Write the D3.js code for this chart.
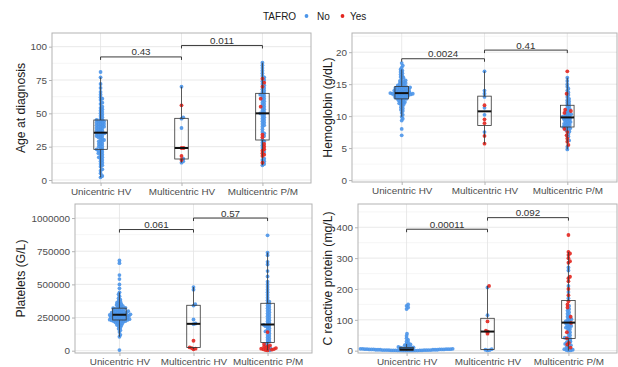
<!DOCTYPE html>
<html>
<head>
<meta charset="utf-8">
<script src="https://cdn.jsdelivr.net/npm/d3@7"></script>
<style>
  body { margin: 0; background: #fff; }
  svg { display: block; font-family: "Liberation Sans", Arial, Helvetica, sans-serif; }
</style>
</head>
<body>
<svg id="chart" width="618" height="367"></svg>
<script>
// [1] DATA
const groups = ['Unicentric HV', 'Multicentric HV', 'Multicentric P/M'];
const tafroLevels = ['No', 'Yes'];

// age at diagnosis (years)
const ageUni = [2, 3, 5, 7, 8, 10, 11, 12, 13, 14, 15, 16, 17, 17, 18, 19, 20, 20, 21, 22, 22, 23,
  23, 24, 25, 25, 26, 27, 27, 28, 29, 29, 30, 30, 31, 32, 32, 33, 33, 34, 34, 35, 35, 35,
  36, 36, 37, 37, 38, 38, 39, 39, 40, 40, 40, 41, 41, 42, 42, 42, 43, 43, 44, 44, 44, 45,
  45, 46, 47, 48, 49, 50, 51, 52, 53, 54, 55, 57, 58, 60, 61, 62, 64, 66, 69, 72, 77, 81];
const ageMhvNo = [13, 14, 16, 39, 46, 47, 70];
const ageMhvYes = [15, 18, 24, 24, 56];
const agePmNo = [11, 12, 14, 15, 16, 21, 24, 26, 28, 29, 30, 33, 35, 36, 38, 40, 41, 42, 43, 44, 45, 46, 47,
  48, 49, 50, 50, 51, 52, 53, 54, 55, 56, 57, 58, 59, 60, 61, 62, 63, 64, 64, 65, 66, 67, 68, 69, 71,
  72, 74, 75, 77, 78, 80, 82, 84, 86, 88];
const agePmYes = [76, 73, 70, 61, 55, 34, 32, 27, 25, 23, 22, 20, 19, 18, 13];

// hemoglobin (g/dL)
const hbUni = [7.0, 8.0, 9.3, 9.6, 9.9, 10.2, 10.5, 10.8, 11.0, 11.2, 11.4, 11.6, 11.8, 11.9, 12.0, 12.1, 12.2, 12.3, 12.4, 12.5, 12.6, 12.7,
  12.7, 12.8, 12.8, 12.9, 12.9, 13.0, 13.0, 13.1, 13.1, 13.2, 13.2, 13.3, 13.3, 13.3, 13.4, 13.4, 13.4, 13.5, 13.5, 13.5, 13.5, 13.6,
  13.6, 13.6, 13.7, 13.7, 13.8, 13.8, 13.9, 13.9, 14.0, 14.0, 14.1, 14.1, 14.2, 14.2, 14.3, 14.3, 14.4, 14.4, 14.5, 14.5, 14.6, 14.6,
  14.7, 14.8, 14.9, 15.0, 15.1, 15.2, 15.3, 15.4, 15.5, 15.6, 15.8, 16.0, 16.1, 16.3, 16.5, 16.7, 16.9, 17.1, 17.3, 17.6, 17.9, 18.3];
const hbMhvNo = [17.0, 14.0, 13.5, 13.0, 11.3, 10.2, 7.5];
const hbMhvYes = [11.7, 9.5, 8.9, 6.9, 5.7];
const hbPmNo = [4.8, 5.2, 6.2, 6.8, 7.2, 7.6, 7.8, 8.0, 8.1, 8.2, 8.3, 8.4, 8.5, 8.6, 8.7, 8.8, 8.9, 9.0, 9.1, 9.2,
  9.3, 9.4, 9.5, 9.6, 9.7, 9.7, 9.8, 9.9, 10.0, 10.1, 10.2, 10.3, 10.4, 10.6, 10.7, 10.9, 11.1, 11.3, 11.5, 11.7,
  11.9, 12.1, 12.3, 12.5, 12.7, 13.0, 13.3, 13.7, 14.0, 14.3, 14.6, 15.0, 15.5, 16.0];
const hbPmYes = [17.0, 13.5, 11.0, 10.8, 10.5, 8.0, 7.5, 7.0, 6.5, 6.0, 5.5];

// platelets (G/L)
const pltUni = [5000, 105000, 120000, 140000, 155000, 165000, 175000, 185000, 190000, 195000, 200000, 205000, 210000, 213000, 216000, 219000, 222000, 224000, 226000, 228000, 229000, 230000,
  232000, 234000, 236000, 238000, 240000, 242000, 244000, 246000, 248000, 250000, 252000, 254000, 256000, 258000, 260000, 262000, 264000, 265000, 266000, 268000, 269000, 270000,
  272000, 274000, 276000, 278000, 280000, 282000, 284000, 286000, 288000, 290000, 292000, 294000, 296000, 298000, 300000, 303000, 306000, 309000, 312000, 315000, 318000, 320000,
  323000, 327000, 331000, 335000, 340000, 345000, 350000, 356000, 362000, 368000, 375000, 385000, 395000, 410000, 425000, 440000, 470000, 500000, 540000, 570000, 660000, 680000];
const pltMhvNo = [480000, 460000, 350000, 340000, 235000, 205000, 200000];
const pltMhvYes = [75000, 25000, 20000, 15000, 10000];
const pltPmNo = [3000, 20000, 45000, 60000, 70000, 80000, 90000, 100000, 110000, 120000, 130000, 145000, 150000, 160000, 170000, 180000, 185000, 190000,
  195000, 200000, 210000, 220000, 230000, 240000, 250000, 260000, 270000, 280000, 290000, 300000, 310000, 320000, 330000, 340000, 350000, 360000,
  370000, 380000, 400000, 420000, 440000, 460000, 480000, 500000, 520000, 560000, 600000, 650000, 670000, 720000, 740000, 870000];
const pltPmYes = [2000, 5000, 8000, 10000, 12000, 15000, 18000, 20000, 25000, 30000, 35000, 40000, 50000, 140000];

// C reactive protein (mg/L)
const crpUni = [0, 0, 0, 0, 0, 0,
  0.5, 0.5, 0.5, 0.5, 1, 1, 1, 1, 1, 1.5, 1.5, 1.5, 2, 2, 2, 2, 2,
  3, 3, 3, 3, 3, 3, 4, 4, 4, 4, 4, 4, 5, 5, 5, 5, 5, 6, 6, 6, 7, 7, 8, 8,
  9, 10, 11, 12, 14, 16, 18, 20, 22, 25, 30, 35, 40, 48, 55, 135, 140, 145, 150];
const crpMhvNo = [205, 115, 5, 3, 2, 1];
const crpMhvYes = [210, 95, 65, 62, 55];
const crpPmNo = [0, 1, 2, 3, 5, 8, 12, 15, 18, 22, 28, 30, 35, 38, 42, 45, 50, 55, 60, 65, 70, 72, 75, 78, 80, 82, 85, 88,
  92, 95, 98, 100, 102, 105, 110, 115, 120, 125, 130, 135, 145, 170, 190, 210, 260, 270];
const crpPmYes = [375, 320, 315, 310, 300, 290, 285, 240, 235, 225, 200, 180, 160, 150, 140, 110, 90, 60, 40, 25, 20, 10];

// tick labels and p-values
const ageTicks = [0, 25, 50, 75, 100];
const hbTicks = [0, 5, 10, 15, 20];
const pltTicks = [0, 250000, 500000, 750000, 1000000];
const crpTicks = [0, 100, 200, 300, 400];
const agePvals = ['0.43', '0.011'];
const hbPvals = ['0.0024', '0.41'];
const pltPvals = ['0.061', '0.57'];
const crpPvals = ['0.00011', '0.092'];

// [2] PANELS (layout + scale domains)
const panels = [
  { title: 'Age at diagnosis', no: [ageUni, ageMhvNo, agePmNo], yes: [[], ageMhvYes, agePmYes], ticks: ageTicks, pvals: agePvals,
    domain: [-2.25, 110.25], x0: 52, x1: 311, y0: 33, y1: 183, titleX: 21 },
  { title: 'Hemoglobin (g/dL)', no: [hbUni, hbMhvNo, hbPmNo], yes: [[], hbMhvYes, hbPmYes], ticks: hbTicks, pvals: hbPvals,
    domain: [-0.3, 23.0], x0: 352, x1: 617, y0: 33, y1: 182, titleX: 328 },
  { title: 'Platelets (G/L)', no: [pltUni, pltMhvNo, pltPmNo], yes: [[], pltMhvYes, pltPmYes], ticks: pltTicks, pvals: pltPvals,
    domain: [-17400, 1106000], x0: 75, x1: 312, y0: 204, y1: 353, titleX: 21 },
  { title: 'C reactive protein (mg/L)', no: [crpUni, crpMhvNo, crpPmNo], yes: [[], crpMhvYes, crpPmYes], ticks: crpTicks, pvals: crpPvals,
    domain: [-7.5, 475.5], x0: 358, x1: 617, y0: 204, y1: 353, titleX: 328 },
];

const colors = { No: '#4b95e9', Yes: '#e3261f' };
const pointR = 1.9;
const swarmGap = 2.2;
const boxWidth = 13.5;

// simple beeswarm: place each point at the offset closest to the centre that does not collide
const swarm = (ys, d) => {
  const placed = [];
  const xs = new Array(ys.length);
  const order = d3.range(ys.length).sort((a, b) => ys[b] - ys[a]);
  for (const i of order) {
    const y = ys[i];
    const near = placed.filter((p) => Math.abs(p.y - y) < d);
    const cands = [0];
    near.forEach((p) => {
      const dx = Math.sqrt(d * d - (p.y - y) ** 2);
      cands.push(p.x + dx, p.x - dx);
    });
    cands.sort((a, b) => Math.abs(a) - Math.abs(b));
    const x = cands.find((c) => near.every((p) => (p.x - c) ** 2 + (p.y - y) ** 2 >= d * d - 1e-6));
    placed.push({ x, y });
    xs[i] = x;
  }
  return xs;
};

const svg = d3.select('#chart');

// [3] LEGEND
const legend = svg.append('g').style('font-size', '10px').attr('fill', '#1a1a1a');
legend.append('text').attr('x', 263).attr('y', 19.5).text('TAFRO');
legend.append('circle').attr('cx', 306.5).attr('cy', 16).attr('r', pointR).attr('fill', colors.No);
legend.append('text').attr('x', 317).attr('y', 19.5).text('No');
legend.append('circle').attr('cx', 342.5).attr('cy', 16).attr('r', pointR).attr('fill', colors.Yes);
legend.append('text').attr('x', 350).attr('y', 19.5).text('Yes');

// [4] DRAW PANELS
panels.forEach((p, pi) => {
  const xScale = d3.scalePoint().domain(groups).range([p.x0, p.x1]).padding(0.6);
  const yScale = d3.scaleLinear().domain(p.domain).range([p.y1, p.y0]);
  const g = svg.append('g');

  const clipId = `clip${pi}`;
  svg.append('clipPath').attr('id', clipId)
    .append('rect').attr('x', p.x0).attr('y', p.y0).attr('width', p.x1 - p.x0).attr('height', p.y1 - p.y0);

  // grid
  const step = p.ticks[1] - p.ticks[0];
  const minor = d3.range(p.ticks[0] - step / 2, p.domain[1], step).filter((v) => v > p.domain[0] && v < p.domain[1]);
  g.selectAll('.minor').data(minor).join('line')
    .attr('x1', p.x0).attr('x2', p.x1)
    .attr('y1', (d) => yScale(d)).attr('y2', (d) => yScale(d))
    .attr('stroke', '#f0f0f0').attr('stroke-width', 0.6);
  g.selectAll('.major').data(p.ticks).join('line')
    .attr('x1', p.x0).attr('x2', p.x1)
    .attr('y1', (d) => yScale(d)).attr('y2', (d) => yScale(d))
    .attr('stroke', '#e3e3e3').attr('stroke-width', 0.8);
  g.selectAll('.vgrid').data(groups).join('line')
    .attr('x1', (d) => xScale(d)).attr('x2', (d) => xScale(d))
    .attr('y1', p.y0).attr('y2', p.y1)
    .attr('stroke', '#e3e3e3').attr('stroke-width', 0.8);

  // points (beeswarm) then boxes
  const marks = g.append('g').attr('clip-path', `url(#${clipId})`);
  groups.forEach((grp, gi) => {
    const pts = [
      ...p.no[gi].map((v) => ({ v, t: 'No' })),
      ...p.yes[gi].map((v) => ({ v, t: 'Yes' })),
    ];
    const offs = swarm(pts.map((d) => yScale(d.v)), swarmGap);
    pts.forEach((d, i) => { d.dx = offs[i]; });

    marks.append('g').selectAll('circle')
      .data(pts.slice().sort((a, b) => tafroLevels.indexOf(a.t) - tafroLevels.indexOf(b.t)))
      .join('circle')
      .attr('cx', (d) => xScale(grp) + d.dx)
      .attr('cy', (d) => yScale(d.v))
      .attr('r', pointR)
      .attr('fill', (d) => colors[d.t])
      .attr('fill-opacity', 0.9);

    const vals = pts.map((d) => d.v).sort(d3.ascending);
    const q1 = d3.quantile(vals, 0.25);
    const med = d3.quantile(vals, 0.5);
    const q3 = d3.quantile(vals, 0.75);
    const iqr = q3 - q1;
    const lo = d3.min(vals.filter((v) => v >= q1 - 1.5 * iqr));
    const hi = d3.max(vals.filter((v) => v <= q3 + 1.5 * iqr));
    const cx = xScale(grp);
    const box = marks.append('g').attr('fill', 'none');
    box.append('line').attr('x1', cx).attr('x2', cx).attr('y1', yScale(q3)).attr('y2', yScale(hi))
      .attr('stroke', '#333').attr('stroke-width', 0.8);
    box.append('line').attr('x1', cx).attr('x2', cx).attr('y1', yScale(q1)).attr('y2', yScale(lo))
      .attr('stroke', '#333').attr('stroke-width', 0.8);
    box.append('rect').attr('x', cx - boxWidth / 2).attr('width', boxWidth)
      .attr('y', yScale(q3)).attr('height', Math.max(0.5, yScale(q1) - yScale(q3)))
      .attr('stroke', '#333').attr('stroke-width', 0.8);
    box.append('line').attr('x1', cx - boxWidth / 2).attr('x2', cx + boxWidth / 2)
      .attr('y1', yScale(med)).attr('y2', yScale(med))
      .attr('stroke', '#111').attr('stroke-width', 2);
  });

  // significance brackets
  const all = groups.flatMap((grp, gi) => [...p.no[gi], ...p.yes[gi]]);
  const range = d3.max(all) - d3.min(all);
  const base = d3.max(all) + 0.05 * range;
  p.pvals.forEach((pv, k) => {
    const yv = yScale(base + k * 0.1 * range);
    const xa = xScale(groups[k]);
    const xb = xScale(groups[k + 1]);
    g.append('path')
      .attr('d', `M${xa},${yv + 3}L${xa},${yv}L${xb},${yv}L${xb},${yv + 3}`)
      .attr('fill', 'none').attr('stroke', '#3a3a3a').attr('stroke-width', 1);
    g.append('text').attr('x', (xa + xb) / 2).attr('y', yv - 1.5)
      .attr('text-anchor', 'middle').style('font-size', '9.8px').attr('fill', '#333').text(pv);
  });

  // panel border
  g.append('rect').attr('x', p.x0).attr('y', p.y0).attr('width', p.x1 - p.x0).attr('height', p.y1 - p.y0)
    .attr('fill', 'none').attr('stroke', '#b3b3b3').attr('stroke-width', 1);

  // axes
  const yAxis = d3.axisLeft(yScale).tickValues(p.ticks).tickSize(3).tickPadding(2).tickFormat(d3.format('d'));
  const xAxis = d3.axisBottom(xScale).tickSize(3).tickPadding(2);
  const ya = g.append('g').attr('transform', `translate(${p.x0},0)`).call(yAxis);
  const xa = g.append('g').attr('transform', `translate(0,${p.y1})`).call(xAxis);
  [ya, xa].forEach((a) => {
    a.select('.domain').remove();
    a.selectAll('.tick line').attr('stroke', '#b3b3b3');
    a.selectAll('.tick text').attr('fill', '#4d4d4d').style('font-size', '9.9px').style('font-family', 'inherit');
  });

  // axis title
  g.append('text')
    .attr('transform', `translate(${p.titleX},${(p.y0 + p.y1) / 2}) rotate(-90)`)
    .attr('text-anchor', 'middle').attr('dy', '0.35em')
    .style('font-size', '12.2px').attr('fill', '#1a1a1a').text(p.title);
});
</script>
</body>
</html>
